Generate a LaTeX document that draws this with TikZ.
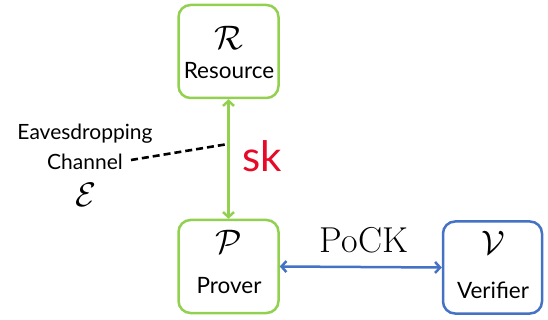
\RequirePackage{fix-cm}
\documentclass[tikz,border=0pt]{standalone}
\usepackage{fontspec}
\setmainfont{Lato}
\newfontfamily\serifcm{Latin Modern Roman}
\usetikzlibrary{arrows.meta}
\definecolor{lime}{RGB}{146,208,80}
\definecolor{steel}{RGB}{68,114,196}
\definecolor{keyred}{RGB}{230,10,40}
\tikzset{
  party/.style={draw, line width=2.5pt, rounded corners=12pt, minimum width=100pt, minimum height=93pt, inner sep=0pt},
  lbl/.style={inner sep=0pt, font=\fontsize{22.5}{26}\selectfont},
  sym/.style={inner sep=0pt, font=\fontsize{34}{36}\selectfont},
  twoway/.style={{Straight Barb[length=5pt,width=11pt]}-{Straight Barb[length=5pt,width=11pt]}},
}
\begin{document}
\begin{tikzpicture}[x=1pt,y=-1pt]
\useasboundingbox (0,0) rectangle (548,320);
% the three parties
\node[party, draw=lime] (res) at (228.5,51.5) {};
\node[party, draw=lime] (prov) at (228.5,266.5) {};
\node[party, draw=steel, minimum width=99pt, minimum height=92pt] (ver) at (492.5,267.5) {};
% symbols and names inside the boxes
\node[sym] (rsym) at (229,38) {$\mathcal{R}$};
\node[lbl, anchor=base] (rtxt) at (229,79) {Resource};
\node[sym] (psym) at (229,242) {$\mathcal{P}$};
\node[lbl, anchor=base] (ptxt) at (229,293) {Prover};
\node[sym] (vsym) at (493,243) {$\mathcal{V}$};
\node[lbl, anchor=base] (vtxt) at (493,298) {Verifier};
% secret key channel between resource and prover
\draw[lime, line width=2.5pt, twoway] (res.south) -- (prov.north);
\node[inner sep=0pt, anchor=base west, text=keyred, font=\fontsize{42}{44}\selectfont] (sk) at (242,172) {sk};
% proof of complete knowledge exchange
\draw[steel, line width=2.5pt, twoway] (prov.east) -- (ver.west);
\node[inner sep=0pt, anchor=base, font=\fontsize{36}{38}\selectfont\serifcm] (pock) at (364,252) {PoCK};
% eavesdropper tapping the channel
\node[inner sep=0pt, align=center, font=\fontsize{21}{30}\selectfont] (eve) at (85,147) {Eavesdropping\\Channel};
\coordinate (tap) at (228,144);
\draw[line width=2.6pt, dash pattern=on 7pt off 4pt] (131,160) -- (tap);
\node[sym] (esym) at (86,195) {$\mathcal{E}$};
\end{tikzpicture}
\end{document}
